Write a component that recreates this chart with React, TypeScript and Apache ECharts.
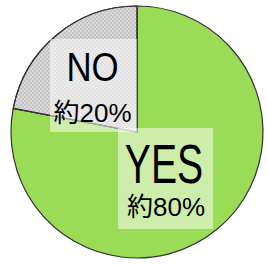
import React, { useEffect, useRef } from "react";
import * as echarts from "echarts";

const categories = ["YES", "NO"];
const values = [78, 22];
const shareLabels = ["約80%", "約20%"];

const colors = ["#9BDC57", "#C4C4C4"];

// pie geometry
const CX = 137;
const CY = 132;
const R = 126;

export default function App() {
  const ref = useRef<HTMLDivElement>(null);
  useEffect(() => {
    if (!ref.current) return;
    const chart = echarts.init(ref.current, null, { renderer: "svg" });
    const latin = "'Liberation Sans', Arial, sans-serif";
    const mixed = "'Liberation Sans', Arial, 'Noto Sans CJK JP', sans-serif";
    // label box layouts relative to the pie centre
    const boxes = [
      { dx: -19, dy: -4, w: 95, h: 101, bigX: 27, bigY: 31, bigSize: 56, scale: 0.7, smallX: 29, smallY: 75, smallSize: 26 },
      { dx: -87, dy: -93, w: 87, h: 93, bigX: -44.5, bigY: -64.5, bigSize: 40.5, scale: 0.86, smallX: -44.5, smallY: -19.5, smallSize: 26 },
    ];
    const graphic = categories.map((name, i) => {
      const b = boxes[i];
      return {
        type: "group",
        x: CX,
        y: CY,
        z: 100,
        silent: true,
        children: [
          {
            type: "rect",
            z: 100,
            shape: { x: b.dx, y: b.dy, width: b.w, height: b.h },
            style: { fill: "rgba(255,255,255,0.5)" },
          },
          {
            type: "text",
            z: 101,
            x: b.bigX,
            y: b.bigY,
            scaleX: b.scale,
            style: {
              text: name,
              fontFamily: latin,
              fontSize: b.bigSize,
              fill: "#000",
              textAlign: "center",
              textVerticalAlign: "middle",
            },
          },
          {
            type: "text",
            z: 101,
            x: b.smallX,
            y: b.smallY,
            style: {
              text: shareLabels[i],
              fontFamily: mixed,
              fontSize: b.smallSize,
              fill: "#000",
              textAlign: "center",
              textVerticalAlign: "middle",
            },
          },
        ],
      };
    });
    const data = categories.map((name, i) => ({
      name,
      value: values[i],
      itemStyle:
        i === 1
          ? {
              color: colors[i],
              decal: {
                symbol: "rect",
                symbolSize: 1,
                color: "rgba(255,255,255,0.35)",
                dashArrayX: [
                  [2, 2],
                  [0, 2, 2, 0],
                ],
                dashArrayY: [2, 0],
                rotation: 0,
              },
            }
          : { color: colors[i] },
    }));
    chart.setOption({
      animation: false,
      series: [
        {
          type: "pie",
          z: 2,
          center: [CX, CY],
          radius: R,
          startAngle: 90,
          clockwise: true,
          label: { show: false },
          labelLine: { show: false },
          emphasis: { disabled: true },
          itemStyle: { borderColor: "#333", borderWidth: 1.2 },
          data,
        },
      ],
      graphic: { elements: graphic },
    });
    return () => chart.dispose();
  }, []);
  return (
    <div
      ref={ref}
      style={{ position: "fixed", left: 0, top: 0, width: 267, height: 265, background: "#fff" }}
    />
  );
}
